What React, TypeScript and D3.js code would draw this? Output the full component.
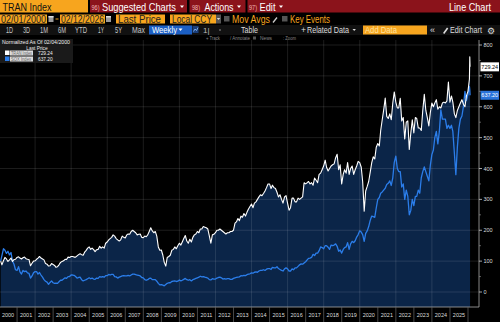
import React from "react";
import * as d3 from "d3";

const W = 500;
const H = 322;

// TRAN Index, normalized (100 = 02/04/2000). First value = 02/04/2000, then month-ends Feb 2000..Dec 2025, then Jan 2026, 02/06/2026, 02/12/2026
const tranValues: number[] = [
  100,
  88, 101, 112, 107, 99, 104, 110, 99, 105, 106, 112,
  114, 110, 107, 111, 113, 108, 106, 105, 85, 93, 100, 101,
  106, 110, 115, 110, 107, 104, 92, 90, 84, 85, 92, 89,
  86, 80, 82, 88, 96, 99, 101, 106, 105, 113, 112, 115,
  115, 113, 113, 117, 121, 124, 121, 119, 129, 135, 142, 146,
  138, 142, 137, 131, 137, 138, 148, 142, 146, 142, 158, 162,
  169, 173, 177, 185, 181, 173, 169, 165, 169, 181, 177, 175,
  185, 188, 187, 196, 200, 196, 192, 185, 187, 188, 177, 176,
  181, 179, 185, 196, 208, 198, 192, 196, 181, 146, 135, 136,
  119, 96, 84, 112, 115, 119, 135, 138, 146, 140, 150, 158,
  152, 162, 173, 183, 165, 158, 171, 162, 177, 185, 188, 196,
  192, 204, 204, 212, 210, 208, 204, 181, 158, 185, 187, 192,
  200, 200, 204, 200, 196, 192, 188, 192, 192, 196, 196, 200,
  223, 227, 238, 231, 246, 242, 254, 246, 258, 269, 277, 285,
  273, 288, 292, 300, 308, 315, 312, 319, 327, 338, 350, 350,
  335, 346, 338, 335, 323, 308, 315, 300, 288, 308, 312, 288,
  265, 273, 304, 304, 292, 292, 304, 300, 304, 308, 354, 350,
  354, 358, 350, 354, 346, 369, 362, 354, 381, 385, 396, 408,
  427, 404, 392, 400, 408, 412, 415, 435, 446, 396, 412, 350,
  381, 396, 385, 419, 381, 400, 408, 381, 396, 408, 423, 419,
  404, 358, 262, 327, 342, 358, 388, 419, 438, 431, 469, 481,
  473, 523, 558, 590, 628, 569, 562, 577, 558, 612, 648, 615,
  596, 596, 627, 554, 565, 496, 550, 554, 462, 515, 558, 515,
  565, 562, 531, 531, 523, 588, 640, 588, 565, 538, 581, 612,
  600, 612, 623, 592, 600, 596, 612, 615, 612, 619, 680, 615,
  635, 615, 577, 565, 588, 600, 612, 623, 608, 600, 635, 650,
  690, 762, 729.24,
];

// SOX Index, normalized, same dates
const soxValues: number[] = [
  100,
  118, 140, 135, 125, 132, 120, 128, 100, 90, 72, 70,
  82, 65, 58, 70, 66, 68, 62, 60, 45, 52, 62, 66,
  66, 58, 63, 55, 48, 40, 35, 32, 25, 31, 36, 30,
  28, 29, 28, 33, 38, 38, 42, 46, 44, 50, 50, 55,
  55, 54, 50, 45, 47, 48, 40, 36, 38, 40, 43, 46,
  43, 45, 42, 41, 45, 44, 50, 48, 50, 48, 53, 53,
  57, 55, 57, 57, 50, 49, 45, 48, 50, 52, 53, 52,
  52, 54, 52, 55, 58, 58, 56, 55, 54, 52, 47, 46,
  40, 38, 40, 44, 45, 40, 40, 40, 35, 28, 23, 24,
  22, 20, 24, 28, 30, 30, 34, 35, 36, 34, 35, 39,
  36, 38, 41, 44, 40, 38, 40, 36, 40, 42, 44, 46,
  48, 51, 49, 50, 48, 47, 45, 40, 39, 43, 42, 42,
  45, 47, 48, 46, 42, 43, 42, 43, 43, 41, 41, 44,
  46, 47, 48, 49, 53, 52, 54, 53, 56, 58, 59, 62,
  61, 64, 65, 64, 68, 70, 70, 72, 70, 74, 76, 76,
  73, 80, 78, 78, 82, 76, 73, 70, 68, 75, 78, 75,
  68, 68, 75, 72, 78, 78, 83, 88, 91, 90, 94, 98,
  104, 109, 110, 112, 122, 118, 126, 126, 134, 146, 144, 140,
  150, 150, 145, 138, 152, 150, 152, 156, 148, 132, 136, 126,
  138, 144, 146, 160, 138, 156, 164, 160, 166, 178, 186, 198,
  194, 186, 164, 190, 198, 212, 232, 246, 244, 242, 272, 300,
  306, 320, 324, 330, 336, 348, 352, 360, 345, 370, 420, 440,
  400, 390, 390, 340, 350, 300, 330, 310, 250, 265, 300, 280,
  310, 310, 330, 320, 370, 390, 405, 390, 375, 360, 410, 445,
  460, 500, 520, 480, 520, 590, 560, 560, 560, 530, 540, 530,
  540, 520, 450, 380, 470, 530, 560, 570, 600, 650, 620, 640,
  665, 655, 637.2,
];

const yTicks: number[] = [0, 100, 200, 300, 400, 500, 600, 700, 800];
const yMinorTicks: number[] = [50, 150, 250, 350, 450, 550, 650, 750];
const yearLabels: string[] = [
  "2000", "2001", "2002", "2003", "2004", "2005", "2006", "2007", "2008", "2009",
  "2010", "2011", "2012", "2013", "2014", "2015", "2016", "2017", "2018", "2019",
  "2020", "2021", "2022", "2023", "2024", "2025",
];
const gridYears: number[] = [2002, 2004, 2006, 2008, 2010, 2012, 2014, 2016, 2018, 2020, 2022, 2024];
const lastTran = "729.24";
const lastSox = "637.20";

function buildDates(): Date[] {
  const monthStarts = d3.timeMonth.range(new Date(2000, 2, 1), new Date(2026, 1, 1));
  const monthEnds = monthStarts.map((d) => d3.timeDay.offset(d, -1));
  return [new Date(2000, 1, 4), ...monthEnds, new Date(2026, 0, 30), new Date(2026, 1, 6), new Date(2026, 1, 12)];
}

const FONT = "'Liberation Sans', Arial, sans-serif";
const ORANGE = "#f7a51e";
const RED = "#8b131b";

function T(props: any) {
  const { x, y, s, size = 10, fill = "#fff", len, anchor = "start", weight = "normal" } = props;
  return (
    <text
      x={x}
      y={y}
      fontSize={size}
      fill={fill}
      fontFamily={FONT}
      textAnchor={anchor}
      fontWeight={weight}
      textLength={len}
      lengthAdjust={len ? "spacingAndGlyphs" : undefined}
    >
      {s}
    </text>
  );
}

function Caret(props: any) {
  const { x, y, w = 4, fill = "#fff" } = props;
  return <path d={`M${x},${y} L${x + w},${y} L${x + w / 2},${y + w * 0.6} Z`} fill={fill} />;
}

export default function App() {
  const dates = buildDates();
  const plotTop = 40;
  const plotBottom = 307;
  const axisX = 479;

  const x = d3.scaleTime().domain([new Date(2000, 0, 1), new Date(2026, 0, 1)]).range([-1, 468]);
  const y = d3.scaleLinear().domain([0, 800]).range([292, 45]);

  const tranData = dates.map((d, i) => ({ d, v: tranValues[i] }));
  const soxData = dates.map((d, i) => ({ d, v: soxValues[i] }));

  const line = d3
    .line<{ d: Date; v: number }>()
    .x((p) => x(p.d))
    .y((p) => y(p.v));
  const area = d3
    .area<{ d: Date; v: number }>()
    .x((p) => x(p.d))
    .y0(plotBottom)
    .y1((p) => y(p.v));

  return (
    <svg width={W} height={H} style={{ position: "fixed", left: 0, top: 0, display: "block" }}>
      <rect x={0} y={0} width={W} height={H} fill="#000" />

      {/* Row 1 */}
      <rect x={0} y={0} width={88} height={12.5} fill={ORANGE} />
      <T x={2.5} y={10.5} s="TRAN Index" size={11} fill="#111" len={49} />
      <rect x={90} y={0} width={97} height={12.5} fill={RED} />
      <rect x={189.5} y={0} width={56} height={12.5} fill={RED} />
      <rect x={247.5} y={0} width={252.5} height={12.5} fill={RED} />
      <T x={91.5} y={9.5} s="96)" size={7} fill="#f2b8b8" len={8} />
      <T x={102} y={10.5} s="Suggested Charts" size={11} fill="#fff" len={74} />
      <Caret x={180} y={5.5} fill="#fff" />
      <T x={192} y={9.5} s="98)" size={7} fill="#f2b8b8" len={8} />
      <T x={204.5} y={10.5} s="Actions" size={11} fill="#fff" len={29} />
      <Caret x={237} y={5.5} fill="#fff" />
      <T x={249} y={9.5} s="97)" size={7} fill="#f2b8b8" len={8} />
      <T x={259.5} y={10.5} s="Edit" size={11} fill="#fff" len={16} />
      <Caret x={279} y={5.5} fill="#fff" />
      <T x={491} y={10.5} s="Line Chart" size={11} fill="#fff" len={42} anchor="end" />

      {/* Row 2 */}
      <rect x={0} y={14.5} width={47} height={9} fill={ORANGE} />
      <T x={1} y={22.5} s="02/01/2000" size={10} fill="#222" len={45} />
      <rect x={48.5} y={16} width={5} height={6} fill="#9a9a9a" />
      <rect x={48.5} y={16} width={5} height={1.5} fill="#ddd" />
      <rect x={55.5} y={18.5} width={3} height={1} fill={ORANGE} />
      <rect x={60} y={14.5} width={45} height={9} fill={ORANGE} />
      <T x={61} y={22.5} s="02/12/2026" size={10} fill="#222" len={43} />
      <rect x={106} y={16} width={5} height={6} fill="#9a9a9a" />
      <rect x={106} y={16} width={5} height={1.5} fill="#ddd" />
      <rect x={116} y={14.5} width={49} height={9} fill={ORANGE} />
      <T x={118} y={22.5} s="Last Price" size={10} fill="#222" len={43} />
      <rect x={170} y={14.5} width={46} height={9} fill={ORANGE} />
      <T x={172} y={22.5} s="Local CCY" size={10} fill="#222" len={40} />
      <rect x={216} y={14.5} width={5} height={9} fill="#555" />
      <Caret x={216.8} y={18} w={3.4} fill="#ddd" />
      <rect x={224} y={16} width={5.5} height={5.5} fill="#555" />
      <T x={232} y={22.5} s="Mov Avgs" size={10} fill={ORANGE} len={38} />
      <path d="M272.5,22 L276.5,17 L277.5,18 L273.5,23 Z" fill="#ccc" />
      <rect x={282} y={16} width={5.5} height={5.5} fill="#555" />
      <T x={290} y={22.5} s="Key Events" size={10} fill={ORANGE} len={40} />

      {/* Row 3 */}
      <rect x={0} y={25} width={W} height={10} fill="#111" />
      {[
        ["1D", 6, 7],
        ["3D", 23, 7],
        ["1M", 40, 8],
        ["6M", 58, 8],
        ["YTD", 75, 12],
        ["1Y", 98, 6],
        ["5Y", 115, 7],
        ["Max", 132, 13],
      ].map(([s, xx, l]) => (
        <T key={s as string} x={xx} y={33} s={s} size={8.5} fill="#c8c8c8" len={l} />
      ))}
      <rect x={149} y={25.5} width={43} height={9} fill="#1b5fc4" />
      <T x={152} y={33} s="Weekly" size={8.5} fill="#fff" len={25} />
      <Caret x={178.5} y={28.5} w={4} fill="#fff" />
      <rect x={192.5} y={26} width={6} height={7} fill="#1b3f7a" />
      <path d="M193.5,31.5 L195,29 L196.5,30.5 L198,27.5" stroke="#8fc3ff" strokeWidth={0.8} fill="none" />
      <T x={203} y={33} s="1|" size={8} fill="#bbb" />
      <circle cx={220} cy={30} r={0.7} fill="#bbb" />
      <T x={241} y={33} s="Table" size={8.5} fill="#ddd" len={17} />
      <T x={301} y={33} s="+" size={8.5} fill="#ddd" />
      <T x={307} y={33} s="Related Data" size={8.5} fill="#ddd" len={42} />
      <Caret x={352.5} y={29} w={3.4} fill="#ddd" />
      <rect x={363} y={25.5} width={64} height={9} fill={ORANGE} />
      <T x={365} y={33} s="Add Data" size={8.5} fill="#fde3a0" len={32} />
      <T x={430} y={33} s="«" size={9} fill="#ddd" />
      <path d="M443,33 L447,27.5 L448.3,28.5 L444.3,34 Z" fill="#ddd" />
      <T x={450} y={33} s="Edit Chart" size={8.5} fill="#ddd" len={32} />
      <T x={487} y={33.5} s="⚙" size={9} fill="#ddd" />

      {/* Row 4 tool hints */}
      <T x={206} y={39.5} s="+ Track" size={4.5} fill="#888" len={14} />
      <T x={230} y={39.5} s="/ Annotate" size={4.5} fill="#888" len={20} />
      <rect x={253} y={36.5} width={3} height={3} fill="#555" />
      <T x={260} y={39.5} s="News" size={4.5} fill="#888" len={12} />
      <T x={283} y={39.5} s=": Zoom" size={4.5} fill="#888" len={13} />

      {/* Plot area */}
      <path d={area(tranData) || ""} fill="#0b2548" />

      {/* Grid */}
      {yTicks.map((t) => (
        <line key={"gy" + t} x1={0} x2={axisX} y1={y(t)} y2={y(t)} stroke="rgba(255,255,255,0.16)" strokeWidth={0.7} />
      ))}
      {gridYears.map((yr) => (
        <line
          key={"gx" + yr}
          x1={x(new Date(yr, 0, 1))}
          x2={x(new Date(yr, 0, 1))}
          y1={plotTop}
          y2={plotBottom}
          stroke="rgba(255,255,255,0.16)"
          strokeWidth={0.7}
        />
      ))}

      {/* Series */}
      <path d={line(soxData) || ""} fill="none" stroke="#2b7de9" strokeWidth={1.3} strokeLinejoin="round" />
      <path d={line(tranData) || ""} fill="none" stroke="#ffffff" strokeWidth={1.1} strokeLinejoin="round" />

      {/* Frame & axes */}
      <line x1={0} x2={axisX} y1={plotBottom} y2={plotBottom} stroke="#aaa" strokeWidth={0.8} />
      <line x1={axisX} x2={axisX} y1={plotTop} y2={plotBottom} stroke="#aaa" strokeWidth={0.8} />
      {yTicks.map((t) => (
        <g key={"yt" + t}>
          <line x1={axisX} x2={axisX + 3} y1={y(t)} y2={y(t)} stroke="#ccc" strokeWidth={0.8} />
          <T x={axisX + 4.5} y={y(t) + 2} s={String(t)} size={5.5} fill="#ddd" />
        </g>
      ))}
      {yMinorTicks.map((t) => (
        <line key={"ym" + t} x1={axisX} x2={axisX + 2} y1={y(t)} y2={y(t)} stroke="#999" strokeWidth={0.6} />
      ))}

      {/* Year labels & separators */}
      {yearLabels.map((lab) => {
        const yr = +lab;
        const x0 = x(new Date(yr, 0, 1));
        const x1 = x(new Date(yr + 1, 0, 1));
        return (
          <g key={"yr" + lab}>
            <line x1={x1} x2={x1} y1={plotBottom} y2={H} stroke="#666" strokeWidth={0.7} />
            <T x={(x0 + x1) / 2} y={317} s={lab} size={5.5} fill="#ddd" anchor="middle" />
          </g>
        );
      })}

      {/* Last value tags */}
      <rect x={480.5} y={y(729.24) - 4.5} width={18.5} height={9} fill="#fff" />
      <T x={489.75} y={y(729.24) + 2} s={lastTran} size={5.5} fill="#000" anchor="middle" />
      <rect x={480.5} y={y(637.2) - 4.5} width={18.5} height={9} fill="#2a73d9" />
      <T x={489.75} y={y(637.2) + 2} s={lastSox} size={5.5} fill="#fff" anchor="middle" />

      {/* Legend */}
      <rect x={0} y={39} width={73} height={24} fill="#1a1a1a" />
      <T x={2} y={44} s="Normalized As Of 02/04/2000" size={4.8} fill="#eee" len={68} />
      <T x={37} y={49.5} s="Last Price" size={4.8} fill="#eee" anchor="middle" />
      <rect x={5} y={50.5} width={4.5} height={4.5} fill="#fff" />
      <rect x={10} y={50.5} width={23} height={5} fill="#dcdcdc" />
      <T x={11} y={54.6} s="TRAN Index" size={4.8} fill="#666" len={21} />
      <T x={38} y={54.6} s={lastTran} size={4.8} fill="#eee" />
      <rect x={5} y={56.5} width={4.5} height={4.5} fill="#2b7de9" />
      <rect x={10} y={56.5} width={23} height={5} fill="#dcdcdc" />
      <T x={11} y={60.6} s="SOX Index" size={4.8} fill="#666" len={20} />
      <T x={38} y={60.6} s={lastSox} size={4.8} fill="#eee" />
    </svg>
  );
}
